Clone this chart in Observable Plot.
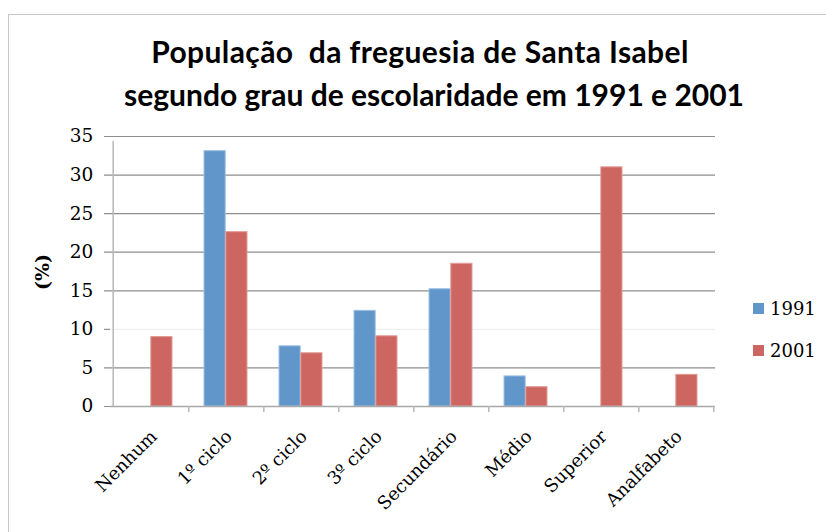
<!DOCTYPE html>
<html>
<head>
<meta charset="utf-8">
<script src="https://cdn.jsdelivr.net/npm/d3@7"></script>
<script src="https://cdn.jsdelivr.net/npm/@observablehq/plot@0.6"></script>
<style>
  html, body { margin: 0; padding: 0; background: #fff; }
  #wrap { position: relative; width: 826px; height: 532px; overflow: hidden; background: #fff; }
  #border { position: absolute; left: 8px; top: 14px; width: 900px; height: 600px; border-left: 1.5px solid #c8c8c8; border-top: 1.5px solid #c8c8c8; }
  #title { position: absolute; left: 0; width: 856px; top: 30px; text-align: center; font-family: Lato, sans-serif; font-weight: 700; font-size: 30px; line-height: 43px; color: #000; }
  #title .l1 { display: inline-block; letter-spacing: 0.4px; transform: translateX(-8px); }
  #title .l2 { display: inline-block; transform: translateX(6px); }
  #ylabel { position: absolute; left: 42px; top: 272px; transform: translate(-50%, -50%) rotate(-90deg); font-family: "DejaVu Serif", serif; font-weight: 700; font-size: 19px; color: #000; white-space: nowrap; }
  #legend { position: absolute; left: 753px; top: 287px; font-family: "DejaVu Serif", serif; font-size: 18px; color: #000; }
  #legend .item { display: flex; align-items: center; height: 42px; }
  #legend .sw { width: 11px; height: 11px; margin-right: 6px; }
  #chart { position: absolute; left: 0; top: 0; }
</style>
</head>
<body>
<div id="wrap">
  <div id="border"></div>
  <div id="chart"></div>
  <div id="title"><span class="l1">População&nbsp; da freguesia de Santa Isabel</span><br><span class="l2">segundo grau de escolaridade em 1991 e 2001</span></div>
  <div id="ylabel">(%)</div>
  <div id="legend"></div>
</div>
<script>
const categories = ["Nenhum", "1º ciclo", "2º ciclo", "3º ciclo", "Secundário", "Médio", "Superior", "Analfabeto"];
const years = ["1991", "2001"];
const values1991 = [null, 33.1, 7.8, 12.4, 15.2, 3.9, null, null];
const values2001 = [9.0, 22.6, 6.9, 9.1, 18.5, 2.5, 31.0, 4.1];
const yTicks = [0, 5, 10, 15, 20, 25, 30, 35];
const colors = ["#6096ca", "#cd6661"];
const strokes = ["#9dbfe2", "#e29b97"];

const W = 826, H = 532;
const mL = 110, mR = 111, mT = 136, mB = 126;
const step = (W - mL - mR) / categories.length;
const bw = 21.8;

const rows1991 = categories.map((c, i) => ({category: c, value: values1991[i]})).filter(d => d.value != null);
const rows2001 = categories.map((c, i) => ({category: c, value: values2001[i]})).filter(d => d.value != null);

const plot = Plot.plot({
  width: W, height: H,
  marginLeft: mL, marginRight: mR, marginTop: mT, marginBottom: mB,
  style: {fontFamily: "'DejaVu Serif', serif", color: "#000", background: "transparent"},
  x: {type: "band", domain: categories, padding: 0, axis: null},
  y: {domain: [0, 35], axis: null},
  marks: [
    Plot.ruleY(yTicks.filter(d => d !== 10), {stroke: "#8e8e8e", strokeWidth: 1.2, insetLeft: -6}),
    Plot.ruleY([10], {stroke: "#efefef", strokeWidth: 1.2}),
    Plot.ruleY([10], {stroke: "#8e8e8e", strokeWidth: 1.2, insetLeft: -6, insetRight: W - mL - mR}),
    Plot.barY(rows1991, {x: "category", y: "value", fill: colors[0], stroke: strokes[0], strokeWidth: 1, insetLeft: step / 2 - bw, insetRight: step / 2}),
    Plot.barY(rows2001, {x: "category", y: "value", fill: colors[1], stroke: strokes[1], strokeWidth: 1, insetLeft: step / 2, insetRight: step / 2 - bw}),
    Plot.ruleY([0], {stroke: "#a8a8a8", strokeWidth: 1.5}),
    Plot.ruleX([categories[0]], {x: d => d, y1: 0, y2: 35, dx: -step / 2, insetBottom: -5, stroke: "#b8b8b8", strokeWidth: 1.5}),
    Plot.ruleX(categories, {x: d => d, y1: 0, y2: 0, dx: step / 2, insetBottom: -6, stroke: "#b8b8b8", strokeWidth: 1.5}),
    Plot.text(yTicks, {x: () => categories[0], y: d => d, text: d => String(d), dx: -step / 2 - 20, textAnchor: "end", fontSize: 18.5, fill: "#000"}),
    Plot.text(categories, {x: d => d, y: () => 0, text: d => d, rotate: -45, textAnchor: "end", dx: 3, dy: 27, fontSize: 18, fill: "#000"})
  ]
});
document.getElementById("chart").appendChild(plot);

const legend = document.getElementById("legend");
years.forEach((y, i) => {
  const item = document.createElement("div");
  item.className = "item";
  const sw = document.createElement("span");
  sw.className = "sw";
  sw.style.background = colors[i];
  const t = document.createElement("span");
  t.textContent = y;
  item.appendChild(sw);
  item.appendChild(t);
  legend.appendChild(item);
});
</script>
</body>
</html>
